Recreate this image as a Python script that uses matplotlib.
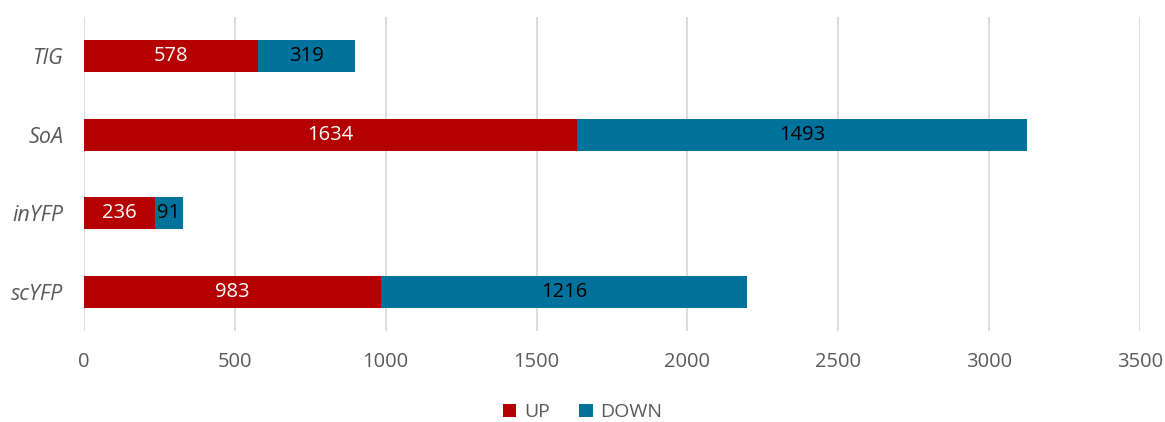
import matplotlib.pyplot as plt

categories = ["scYFP", "inYFP", "SoA", "TlG"]
up = [983, 236, 1634, 578]
down = [1216, 91, 1493, 319]

up_color = "#B40000"
down_color = "#00729B"
text_gray = "#595959"

plt.rcParams['font.family'] = ['Open Sans', 'DejaVu Sans']

fig = plt.figure(figsize=(11.65, 4.22), dpi=100)
ax = fig.add_axes([0.0721, 0.2156, 0.9064, 0.7441])

pos = list(range(len(categories)))
bars_up = ax.barh(pos, up, height=0.41, color=up_color, label="UP", zorder=3)
bars_down = ax.barh(pos, down, left=up, height=0.41, color=down_color,
                    label="DOWN", zorder=3)

ax.bar_label(bars_up, labels=[str(v) for v in up], label_type='center',
             color="white", fontsize=14.5)
ax.bar_label(bars_down, labels=[str(v) for v in down], label_type='center',
             color="black", fontsize=14.5)

ax.set_xlim(0, 3500)
ax.set_ylim(-0.5, len(categories) - 0.5)
ax.set_xticks(range(0, 3501, 500))
ax.set_yticks(pos)
ax.set_yticklabels(categories, style='italic', fontsize=15.5)
ax.tick_params(axis='both', length=0, colors=text_gray)
ax.tick_params(axis='x', pad=15, labelsize=14.5)
ax.tick_params(axis='y', pad=15)
ax.grid(axis='x', color="#D9D9D9", linewidth=1.3, zorder=0)
for s in ax.spines.values():
    s.set_visible(False)

leg = fig.legend(loc='lower center', bbox_to_anchor=(0.5, -0.04), ncol=2,
                 frameon=False, fontsize=14, handlelength=0.7, handleheight=0.7,
                 handletextpad=0.4, columnspacing=1.5)
for t in leg.get_texts():
    t.set_color(text_gray)

fig.savefig("out.png", dpi=100)
